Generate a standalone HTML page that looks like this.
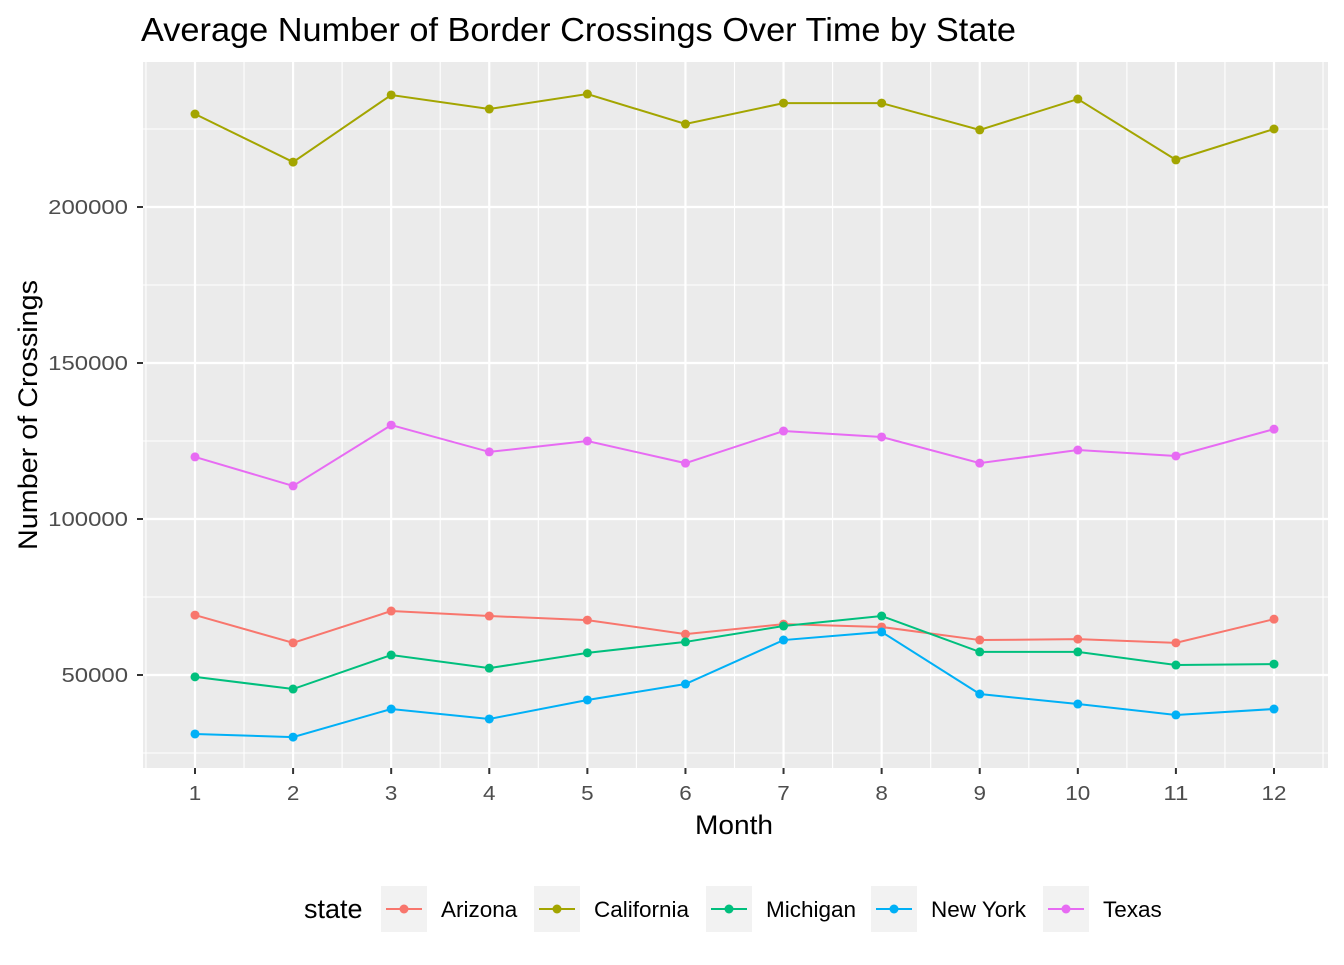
<!DOCTYPE html>
<html><head><meta charset="utf-8"><style>
body{margin:0;background:#fff;}
svg text{font-family:"Liberation Sans",Arial,sans-serif;}
</style></head><body>
<svg id="chart" width="1344" height="960" xmlns="http://www.w3.org/2000/svg">
<rect width="1344" height="960" fill="#fff"/>
<text x="141" y="41" font-size="33" textLength="875" lengthAdjust="spacingAndGlyphs" fill="#000">Average Number of Border Crossings Over Time by State</text>
<rect x="143" y="62" width="1185" height="706" fill="#ebebeb"/>
<g id="grid"></g>
<g id="series"></g>
<g id="axes"></g>
<text x="734" y="834" font-size="27" textLength="78" lengthAdjust="spacingAndGlyphs" text-anchor="middle" fill="#000">Month</text>
<text transform="translate(37,415) rotate(-90)" font-size="27" textLength="270" lengthAdjust="spacingAndGlyphs" text-anchor="middle" fill="#000">Number of Crossings</text>
<g id="legend"></g>
</svg>
<script>
const months=[1,2,3,4,5,6,7,8,9,10,11,12];
const states=["Arizona","California","Michigan","New York","Texas"];
const colors=["#F8766D","#A3A500","#00BF7D","#00B0F6","#E76BF3"];
const arizona=[69200,60300,70500,68900,67600,63100,66300,65400,61200,61500,60300,67900];
const california=[229800,214400,235900,231400,236200,226600,233300,233300,224700,234600,215100,225000];
const michigan=[49400,45500,56400,52200,57100,60600,65700,68900,57400,57400,53200,53500];
const newYork=[31100,30100,39100,35900,42000,47100,61200,63800,43900,40700,37200,39100];
const texas=[119900,110600,130100,121500,125000,117900,128200,126300,117900,122100,120200,128800];
const yTicks=[50000,100000,150000,200000];
const NS="http://www.w3.org/2000/svg";
const xs=m=>195+(m-1)*(1274-195)/11;
const ys=v=>675-(v-50000)*156/50000;
function mk(t,a,p){const e=document.createElementNS(NS,t);for(const k in a)e.setAttribute(k,a[k]);p.appendChild(e);return e;}
const grid=document.getElementById('grid'),axes=document.getElementById('axes');
for(let v=25000;v<=250000;v+=50000){const y=ys(v);if(y<62||y>768)continue;
 const l=mk('line',{x1:143,x2:1328,y1:y,y2:y,stroke:'#fff','stroke-width':1.1},grid);
 }
for(let m=0.5;m<=12.5;m+=1){const x=xs(m);if(x<143||x>1328)continue;
 const l=mk('line',{x1:x,x2:x,y1:62,y2:768,stroke:'#fff','stroke-width':1.1},grid);
 }
yTicks.forEach(v=>{const y=ys(v);
 const l=mk('line',{x1:143,x2:1328,y1:y,y2:y,stroke:'#fff','stroke-width':2.2},grid);
 
 const t=mk('line',{x1:137,x2:143,y1:y,y2:y,stroke:'#333','stroke-width':2},axes);
 
 const s=String(v);
 const tx=mk('text',{x:128,y:y+7,'font-size':20.5,'text-anchor':'end',fill:'#4d4d4d',textLength:s.length*13.3,lengthAdjust:'spacingAndGlyphs'},axes);tx.textContent=s;
 });
months.forEach(m=>{const x=xs(m);
 const l=mk('line',{x1:x,x2:x,y1:62,y2:768,stroke:'#fff','stroke-width':2.2},grid);
 
 const t=mk('line',{x1:x,x2:x,y1:768,y2:774,stroke:'#333','stroke-width':2},axes);
 
 const s=String(m);
 const tx=mk('text',{x:x,y:800,'font-size':20.5,'text-anchor':'middle',fill:'#4d4d4d',textLength:s.length*12.5,lengthAdjust:'spacingAndGlyphs'},axes);tx.textContent=s;
 });
const data=[arizona,california,michigan,newYork,texas];
const ser=document.getElementById('series');
data.forEach((d,i)=>{
 const p=mk('polyline',{points:d.map((v,j)=>xs(months[j])+','+ys(v)).join(' '),fill:'none',stroke:colors[i],'stroke-width':2},ser);
 
 d.forEach((v,j)=>{const c=mk('circle',{cx:xs(months[j]),cy:ys(v),r:4.5,fill:colors[i]},ser);
  });
});
const lg=document.getElementById('legend');
const lt=mk('text',{x:304,y:918,'font-size':27,fill:'#000'},lg);lt.textContent='state';

const kx=[381,534,706,871,1043];
states.forEach((s,i)=>{const x=kx[i];
 const g=mk('g',{},lg);
 mk('rect',{x:x,y:886,width:46,height:46,fill:'#f2f2f2'},g);
 mk('line',{x1:x+5,x2:x+41,y1:909,y2:909,stroke:colors[i],'stroke-width':2},g);
 mk('circle',{cx:x+23,cy:909,r:4.5,fill:colors[i]},g);
 const t=mk('text',{x:x+60,y:917,'font-size':22.5,fill:'#000'},g);t.textContent=s;});
</script>
</body></html>
